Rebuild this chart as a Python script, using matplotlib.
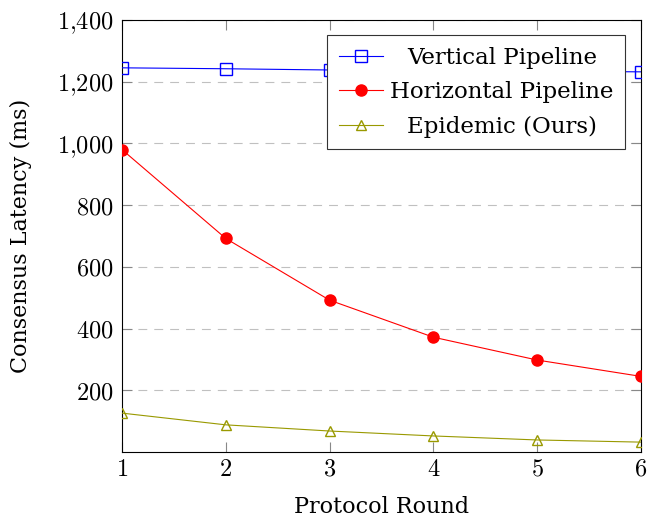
import matplotlib
matplotlib.use("Agg")
import matplotlib.pyplot as plt
from matplotlib.ticker import FixedLocator, FuncFormatter
from matplotlib.transforms import Affine2D

rounds = [1, 2, 3, 4, 5, 6]
vertical = [1245, 1242, 1238, 1236, 1234, 1232]
horizontal = [980, 692, 492, 372, 298, 245]
epidemic = [126, 88, 68, 52, 39, 32]
labels = ["Vertical Pipeline", "Horizontal Pipeline", "Epidemic (Ours)"]
yticks = [200, 400, 600, 800, 1000, 1200, 1400]

plt.rcParams['mathtext.fontset'] = 'cm'
plt.rcParams['font.family'] = ['DejaVu Serif']

fig = plt.figure(figsize=(6.47, 5.19), dpi=100)
ax = fig.add_axes([122/647, 67/519, (641-122)/647, (452-20)/519])

ax.plot(rounds, vertical, color='#0000ff', lw=0.8, marker='s', ms=8,
        mfc='none', mec='#0000ff', mew=1.0, label=labels[0], zorder=3)
ax.plot(rounds, horizontal, color='#ff0000', lw=0.8, marker='o', ms=8,
        mfc='#ff0000', mec='#ff0000', label=labels[1], zorder=3)
ax.plot(rounds, epidemic, color='#999900', lw=0.8, marker='^', ms=7,
        mfc='none', mec='#999900', mew=1.0, label=labels[2], zorder=3)

ax.set_xlim(1, 6)
ax.set_ylim(0, 1400)
ax.xaxis.set_major_locator(FixedLocator(rounds))
ax.yaxis.set_major_locator(FixedLocator(yticks))
ax.xaxis.set_major_formatter(FuncFormatter(lambda v, p: r'$%d$' % v))
ax.yaxis.set_major_formatter(FuncFormatter(
    lambda v, p: (r'$%d{,}%03d$' % (v // 1000, v % 1000)) if v >= 1000 else r'$%d$' % v))

ax.tick_params(axis='both', direction='in', length=7.5, width=0.8, color='#888888',
               labelsize=17.5, top=True, right=True)
ax.tick_params(axis='x', pad=4)
ax.tick_params(axis='y', pad=6)
for s in ax.spines.values():
    s.set_linewidth(0.8)
    s.set_color('black')

ax.grid(axis='y', color='#c0c0c0', linestyle=(0, (8, 6.3)), linewidth=0.8)
ax.set_axisbelow(True)

ax.set_xlabel("Protocol Round", fontsize=16, labelpad=11)
ax.set_ylabel("Consensus Latency (ms)", fontsize=16, labelpad=18)

leg = ax.legend(loc='upper right', bbox_to_anchor=(0.969, 0.965), fontsize=16.5,
                frameon=True, fancybox=False, edgecolor='#333333', framealpha=1,
                handlelength=1.95, handletextpad=0.3, borderpad=0.5,
                labelspacing=0.55, borderaxespad=0)
leg.get_frame().set_linewidth(0.8)
leg.set_zorder(10)

# centre the legend labels within their column
fig.canvas.draw()
r = fig.canvas.get_renderer()
widths = [t.get_window_extent(r).width for t in leg.get_texts()]
wmax = max(widths)
for t, w in zip(leg.get_texts(), widths):
    t.set_transform(Affine2D().translate((wmax - w) / 2, 0) + t.get_transform())

fig.savefig("out.png", dpi=100)
